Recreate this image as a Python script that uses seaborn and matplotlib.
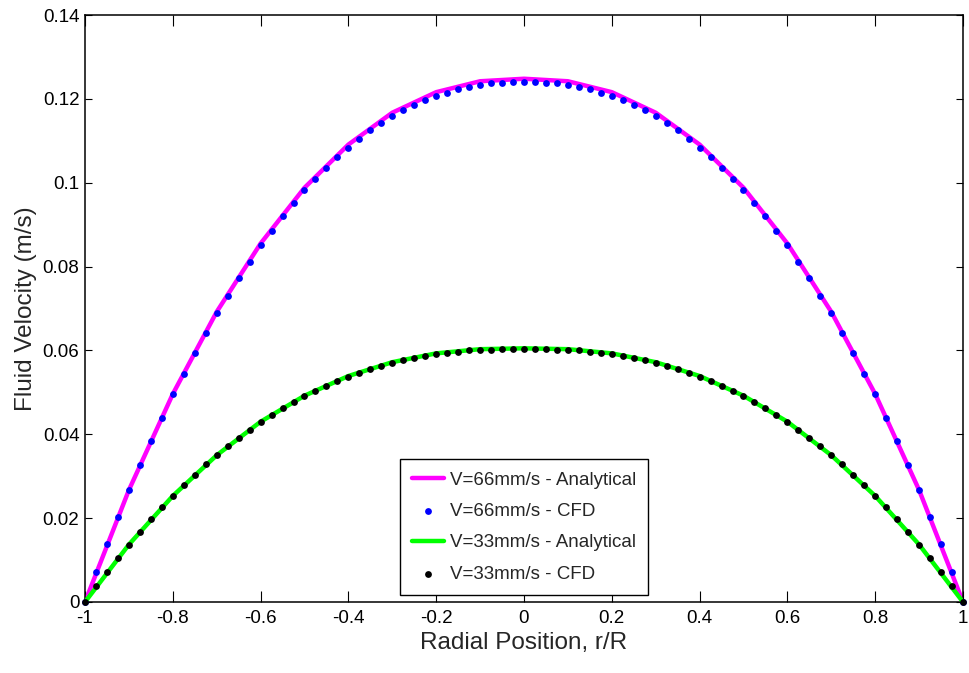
import numpy as np
import matplotlib
matplotlib.use("Agg")
import matplotlib.pyplot as plt
import seaborn as sns

# Radial sample positions
radial_analytical = np.linspace(-1.0, 1.0, 21)
radial_cfd = np.linspace(-1.0, 1.0, 81)

# Analytical velocity profiles (m/s)
u66_analytical = [0.0, 0.0267, 0.0496, 0.0692, 0.0855, 0.0988, 0.1091, 0.1167, 0.1216, 0.1242,
                  0.1248,
                  0.1242, 0.1216, 0.1167, 0.1091, 0.0988, 0.0855, 0.0692, 0.0496, 0.0267, 0.0]
u33_analytical = [0.0, 0.0137, 0.0253, 0.0350, 0.0430, 0.0492, 0.0539, 0.0572, 0.0593, 0.0603,
                  0.0605,
                  0.0603, 0.0593, 0.0572, 0.0539, 0.0492, 0.0430, 0.0350, 0.0253, 0.0137, 0.0]

# CFD velocity profiles (m/s)
u66_cfd = [0.0, 0.0072, 0.0138, 0.0202, 0.0266, 0.0327, 0.0384, 0.0439, 0.0495, 0.0544,
           0.0594, 0.0642, 0.0689, 0.0731, 0.0773, 0.0812, 0.0851, 0.0886, 0.0920, 0.0951,
           0.0982, 0.1009, 0.1036, 0.1061, 0.1083, 0.1105, 0.1125, 0.1143, 0.1159, 0.1173,
           0.1186, 0.1197, 0.1207, 0.1215, 0.1223, 0.1229, 0.1234, 0.1237, 0.1239, 0.1240,
           0.1240,
           0.1240, 0.1239, 0.1237, 0.1234, 0.1229, 0.1223, 0.1215, 0.1207, 0.1197, 0.1186,
           0.1173, 0.1159, 0.1143, 0.1125, 0.1105, 0.1083, 0.1061, 0.1036, 0.1009, 0.0982,
           0.0951, 0.0920, 0.0886, 0.0851, 0.0812, 0.0773, 0.0731, 0.0689, 0.0642, 0.0594,
           0.0544, 0.0495, 0.0439, 0.0384, 0.0327, 0.0266, 0.0202, 0.0138, 0.0072, 0.0]
u33_cfd = [0.0, 0.0037, 0.0071, 0.0105, 0.0137, 0.0168, 0.0197, 0.0226, 0.0253, 0.0279,
           0.0303, 0.0328, 0.0350, 0.0371, 0.0391, 0.0411, 0.0430, 0.0446, 0.0462, 0.0477,
           0.0491, 0.0503, 0.0516, 0.0527, 0.0537, 0.0547, 0.0555, 0.0563, 0.0570, 0.0577,
           0.0582, 0.0587, 0.0591, 0.0594, 0.0597, 0.0600, 0.0601, 0.0602, 0.0603, 0.0603,
           0.0603,
           0.0603, 0.0603, 0.0602, 0.0601, 0.0600, 0.0597, 0.0594, 0.0591, 0.0587, 0.0582,
           0.0577, 0.0570, 0.0563, 0.0555, 0.0547, 0.0537, 0.0527, 0.0516, 0.0503, 0.0491,
           0.0477, 0.0462, 0.0446, 0.0430, 0.0411, 0.0391, 0.0371, 0.0350, 0.0328, 0.0303,
           0.0279, 0.0253, 0.0226, 0.0197, 0.0168, 0.0137, 0.0105, 0.0071, 0.0037, 0.0]

series_labels = ["V=66mm/s - Analytical", "V=66mm/s - CFD",
                 "V=33mm/s - Analytical", "V=33mm/s - CFD"]

x_ticks = [-1, -0.8, -0.6, -0.4, -0.2, 0, 0.2, 0.4, 0.6, 0.8, 1]
x_tick_labels = ["-1", "-0.8", "-0.6", "-0.4", "-0.2", "0", "0.2", "0.4", "0.6", "0.8", "1"]
y_ticks = [0, 0.02, 0.04, 0.06, 0.08, 0.1, 0.12, 0.14]
y_tick_labels = ["0", "0.02", "0.04", "0.06", "0.08", "0.1", "0.12", "0.14"]

sns.set_style("white")
plt.rcParams["font.family"] = ["Liberation Sans", "DejaVu Sans"]

fig = plt.figure(figsize=(9.70, 6.73), dpi=100)
ax = fig.add_axes([85 / 970, 1 - 602 / 673, 878 / 970, 587 / 673])

sns.lineplot(x=radial_analytical, y=u66_analytical, ax=ax, color="#FF00FF",
             linewidth=3.2, label=series_labels[0], zorder=2, sort=False)
sns.scatterplot(x=radial_cfd, y=u66_cfd, ax=ax, color="#0000FF", s=24,
                linewidth=0, label=series_labels[1], zorder=3, clip_on=False)
sns.lineplot(x=radial_analytical, y=u33_analytical, ax=ax, color="#00FF00",
             linewidth=3.2, label=series_labels[2], zorder=4, sort=False)
sns.scatterplot(x=radial_cfd, y=u33_cfd, ax=ax, color="black", s=24,
                linewidth=0, label=series_labels[3], zorder=5, clip_on=False)

ax.set_xlim(-1, 1)
ax.set_ylim(0, 0.14)
ax.set_xticks(x_ticks)
ax.set_xticklabels(x_tick_labels)
ax.set_yticks(y_ticks)
ax.set_yticklabels(y_tick_labels)

for side in ["left", "right", "top", "bottom"]:
    ax.spines[side].set_visible(True)
    ax.spines[side].set_color("black")
    ax.spines[side].set_linewidth(1.1)

ax.tick_params(axis="x", direction="in", length=8, width=0.8, top=True, bottom=True,
               labelsize=13.5, pad=6, colors="black")
ax.tick_params(axis="y", direction="in", length=5, width=0.8, left=True, right=True,
               labelsize=13.5, pad=4, colors="black")

ax.set_xlabel("Radial Position, r/R", fontsize=17.5, labelpad=3)
ax.set_ylabel("Fluid Velocity (m/s)", fontsize=17.5, labelpad=4)

leg = ax.legend(loc="lower center", bbox_to_anchor=(0.5, 0.012), frameon=True,
                fancybox=False, shadow=False, fontsize=13.5, handlelength=1.7,
                handletextpad=0.3, labelspacing=0.76, borderpad=0.65,
                borderaxespad=0.0, markerscale=1.0)
leg.get_frame().set_edgecolor("black")
leg.get_frame().set_linewidth(1.0)
leg.get_frame().set_alpha(1.0)

fig.savefig("out.png", dpi=100, facecolor="white")
